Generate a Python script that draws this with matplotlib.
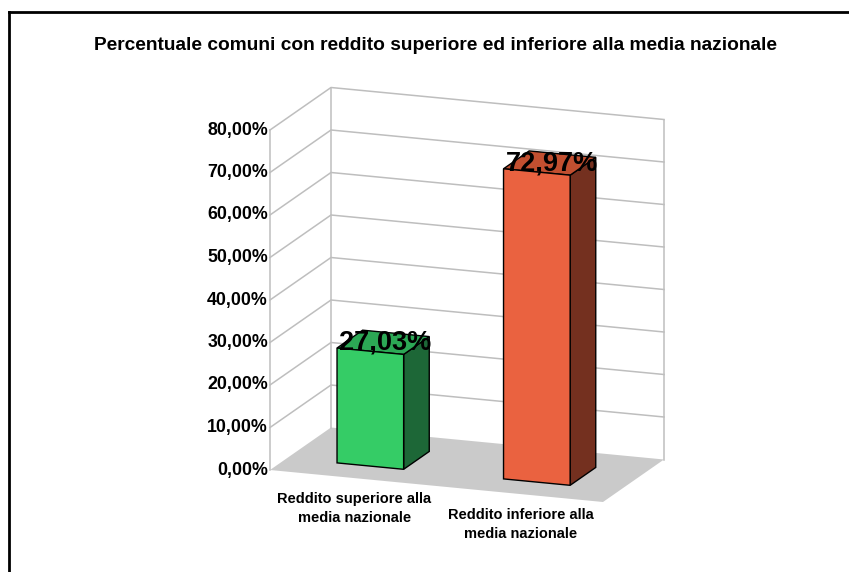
import matplotlib
matplotlib.use('Agg')
import matplotlib.pyplot as plt
from matplotlib.patches import Polygon
from matplotlib.lines import Line2D

plt.rcParams['font.family'] = ['Liberation Sans', 'DejaVu Sans']

title = 'Percentuale comuni con reddito superiore ed inferiore alla media nazionale'
categories = ['Reddito superiore alla\nmedia nazionale',
              'Reddito inferiore alla\nmedia nazionale']
values = [27.03, 72.97]
value_labels = ['27,03%', '72,97%']
ticks = [0, 10, 20, 30, 40, 50, 60, 70, 80]
tick_labels = ['0,00%', '10,00%', '20,00%', '30,00%', '40,00%',
               '50,00%', '60,00%', '70,00%', '80,00%']

front_colors = ['#35CC66', '#EA6240']
side_colors = ['#1D6737', '#74301F']
top_colors = ['#2CA855', '#C24F30']

W, H = 849, 572
VMAX = 80

# oblique view: u across categories (0..1), v value (%), w depth (0..1)
ORIGIN = (270, 470)
U_VEC = (333, 32)
W_VEC = (61, -42.5)
V_SCALE = 340 / VMAX


def proj(u, v, w):
    x = ORIGIN[0] + U_VEC[0] * u + W_VEC[0] * w
    y = ORIGIN[1] + U_VEC[1] * u + W_VEC[1] * w - V_SCALE * v
    return (x, y)


fig = plt.figure(figsize=(W / 100, H / 100), dpi=100)
ax = fig.add_axes([0, 0, 1, 1])
ax.set_xlim(0, W)
ax.set_ylim(H, 0)
ax.axis('off')

grid_color = '#BEBEBE'

# floor
floor = [proj(0, 0, 0), proj(1, 0, 0), proj(1, 0, 1), proj(0, 0, 1)]
ax.add_patch(Polygon(floor, closed=True, facecolor='#CACACA', edgecolor='none', zorder=1))

# walls: gridlines on left and back wall
for t in ticks[1:]:
    a, b, c = proj(0, t, 0), proj(0, t, 1), proj(1, t, 1)
    ax.plot([a[0], b[0], c[0]], [a[1], b[1], c[1]], color=grid_color, lw=1.1, zorder=2)

for u, w in [(0, 0), (0, 1), (1, 1)]:
    a, b = proj(u, 0, w), proj(u, VMAX, w)
    ax.plot([a[0], b[0]], [a[1], b[1]], color=grid_color, lw=1.1, zorder=2)

# value axis labels
for t, lab in zip(ticks, tick_labels):
    x, y = proj(0, t, 0)
    ax.text(x - 2, y, lab, ha='right', va='center', fontsize=12.8,
            fontweight='bold', zorder=5)

# bars
bar_w = 0.2
w0, w1 = 0.28, 0.70
for i, v in enumerate(values):
    c = (i + 0.5) / len(values)
    u0, u1 = c - bar_w / 2, c + bar_w / 2
    front = [proj(u0, 0, w0), proj(u1, 0, w0), proj(u1, v, w0), proj(u0, v, w0)]
    side = [proj(u1, 0, w0), proj(u1, 0, w1), proj(u1, v, w1), proj(u1, v, w0)]
    top = [proj(u0, v, w0), proj(u1, v, w0), proj(u1, v, w1), proj(u0, v, w1)]
    for face, col in [(side, side_colors[i]), (top, top_colors[i]), (front, front_colors[i])]:
        ax.add_patch(Polygon(face, closed=True, facecolor=col, edgecolor='black',
                             lw=1, joinstyle='miter', zorder=3))
    lx, ly = proj(c, v, (w0 + w1) / 2)
    ax.text(lx + 2, ly, value_labels[i], ha='center', va='center', fontsize=19.5,
            fontweight='bold', zorder=6)
    cx, cy = proj(c, 0, 0)
    ax.text(cx + 1, cy + 14, categories[i], ha='center', va='top', fontsize=10.5,
            fontweight='bold', linespacing=1.42, zorder=5)

ax.text(436, 45, title, ha='center', va='center', fontsize=13.8, fontweight='bold')

# chart frame
fig.add_artist(Line2D([9 / W, 9 / W], [0, 1 - 12 / H], color='black', lw=2))
fig.add_artist(Line2D([9 / W, 1], [1 - 12 / H, 1 - 12 / H], color='black', lw=2))

fig.savefig('out.png', dpi=100)
